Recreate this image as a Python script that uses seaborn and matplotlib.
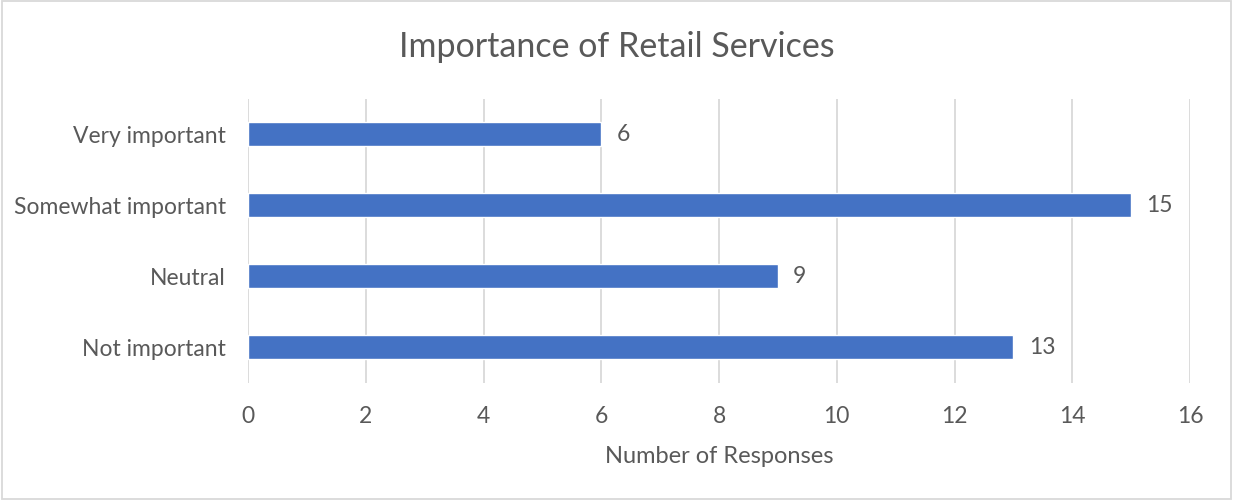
import matplotlib
matplotlib.use("Agg")
import matplotlib.pyplot as plt
import pandas as pd
import seaborn as sns

# Datos del gráfico
categorias = ["Very important", "Somewhat important", "Neutral", "Not important"]
respuestas = [6, 15, 9, 13]
ticks_x = [0, 2, 4, 6, 8, 10, 12, 14, 16]

titulo = "Importance of Retail Services"
etiqueta_x = "Number of Responses"

color_barra = "#4472C4"
color_texto = "#595959"
color_grid = "#D9D9D9"

sns.set_style("white")
plt.rcParams["font.family"] = ["Lato", "DejaVu Sans"]

df = pd.DataFrame({"Categoria": categorias, "Respuestas": respuestas})

fig = plt.figure(figsize=(12.33, 5.02), dpi=100)
ax = fig.add_axes([248 / 1233, 1 - 383.5 / 502, 942 / 1233, 284 / 502])

sns.barplot(data=df, x="Respuestas", y="Categoria", color=color_barra,
            width=0.34, saturation=1, ax=ax, order=categorias)

ax.set_xlim(0, 16)
ax.set_ylim(3.5, -0.5)
ax.set_xticks(ticks_x)
ax.xaxis.grid(True, color=color_grid, linewidth=1.3)
ax.set_axisbelow(True)
for s in ax.spines.values():
    s.set_visible(False)

ax.tick_params(axis="both", length=0, colors=color_texto, labelsize=16.5)
ax.tick_params(axis="x", pad=16)
ax.tick_params(axis="y", pad=16)
ax.set_ylabel("")
ax.set_xlabel(etiqueta_x, color=color_texto, fontsize=17, labelpad=14)

# Etiquetas de valor
for cont in ax.containers:
    ax.bar_label(cont, labels=[str(v) for v in respuestas], padding=11,
                 color=color_texto, fontsize=16.5)

fig.text(0.5, 1 - 47 / 502, titulo, ha="center", va="center",
         color=color_texto, fontsize=24.5)

# Borde del gráfico
fig.patches.append(plt.Rectangle((0.0015, 0.003), 0.997, 0.994, transform=fig.transFigure,
                                 fill=False, edgecolor="#D9D9D9", linewidth=1.3))

fig.savefig("out.png", dpi=100)
